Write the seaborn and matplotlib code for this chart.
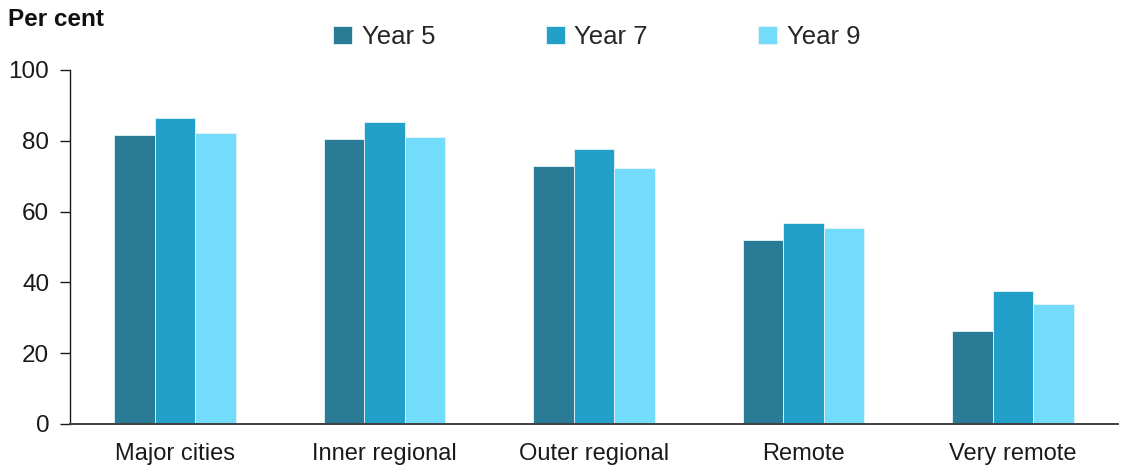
import pandas as pd
import matplotlib
matplotlib.use("Agg")
import matplotlib.pyplot as plt
import seaborn as sns

# valori (percentuale)
regions = ["Major cities", "Inner regional", "Outer regional", "Remote", "Very remote"]
years = ["Year 5", "Year 7", "Year 9"]
year5 = [81.6, 80.5, 73.0, 52.1, 26.4]
year7 = [86.4, 85.3, 77.8, 56.9, 37.6]
year9 = [82.1, 81.1, 72.4, 55.3, 33.9]
colours = ["#2A7C96", "#23A0C9", "#72DCFA"]

df = pd.DataFrame({
    "region": regions * 3,
    "year": [years[0]] * 5 + [years[1]] * 5 + [years[2]] * 5,
    "value": year5 + year7 + year9,
})

sns.set_theme(style="white")
plt.rcParams["font.family"] = ["Liberation Sans", "DejaVu Sans"]

fig = plt.figure(figsize=(11.24, 4.68), dpi=100)
ax = fig.add_axes([70 / 1124, 1 - 424 / 468, 1048 / 1124, 354 / 468])

sns.barplot(data=df, x="region", y="value", hue="year", order=regions,
            hue_order=years, palette=colours, width=0.58, gap=0,
            edgecolor="#e6f4f8", linewidth=0.6, saturation=1, ax=ax)

ax.set_xlim(-0.5, 4.5)
ax.set_ylim(0, 100)
ax.set_yticks([0, 20, 40, 60, 80, 100])
ax.set_xlabel("")
ax.set_ylabel("")

for s in ["top", "right"]:
    ax.spines[s].set_visible(False)
ax.spines["left"].set_color("#1a1a1a")
ax.spines["left"].set_linewidth(1.0)
ax.spines["bottom"].set_color("#404040")
ax.spines["bottom"].set_linewidth(1.4)

ax.tick_params(axis="y", which="major", left=True, length=7, width=1.0,
               color="#1a1a1a", labelsize=17.5, labelcolor="#1a1a1a", pad=8)
ax.tick_params(axis="x", bottom=False, labelsize=17, labelcolor="#1a1a1a", pad=8)

fig.text(8 / 1124, 1 - 20 / 468, "Per cent", fontsize=17.5, fontweight="bold",
         color="#111111", ha="left", va="center")

handles, labels = ax.get_legend_handles_labels()
ax.legend(handles, labels, loc="center", bbox_to_anchor=(0.531, 0.921),
          bbox_transform=fig.transFigure, ncol=3, frameon=False, fontsize=18.5,
          handlelength=0.74, handleheight=0.74, handletextpad=0.37,
          columnspacing=4.3, borderaxespad=0)

fig.savefig("out.png", dpi=100)
